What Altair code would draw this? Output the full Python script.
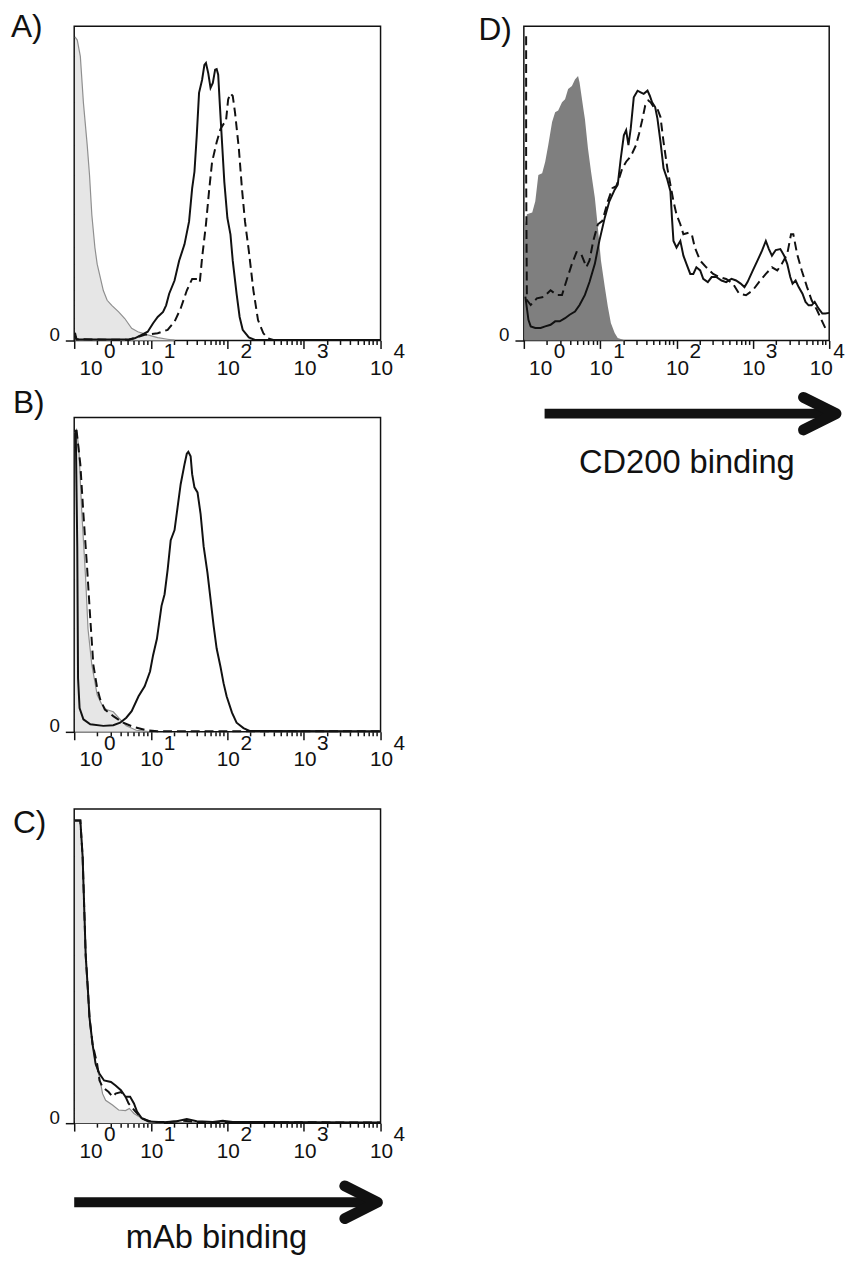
import altair as alt
import pandas as pd

FONT = "Liberation Sans"
INK = "#111111"

# ---- data: (decade = log10 of fluorescence intensity, % of maximum count) ----
A_iso = [(0.01, 96.6), (0.04, 95.6), (0.08, 90.4), (0.12, 75.7), (0.17, 62.1), (0.20, 52.6),
         (0.23, 40.0), (0.27, 29.6), (0.30, 24.3), (0.34, 20.1), (0.38, 15.9), (0.43, 12.8),
         (0.49, 11.2), (0.58, 9.1), (0.66, 7.0), (0.75, 3.9), (0.83, 2.8), (0.96, 1.8),
         (1.09, 0.9), (1.22, 0.4), (1.31, 0.1)]
A_solid = [(0.01, 1.5), (0.03, 0.3), (0.40, 0.3), (0.71, 0.3), (0.79, 0.7), (0.88, 1.8),
           (0.96, 2.8), (1.03, 5.5), (1.09, 7.5), (1.16, 9.1), (1.20, 11.2), (1.24, 14.9),
           (1.31, 19.1), (1.37, 25.4), (1.44, 30.6), (1.50, 37.9), (1.54, 48.4), (1.57, 53.7),
           (1.60, 65.2), (1.63, 78.8), (1.67, 83.0), (1.70, 87.7), (1.72, 88.3), (1.75, 85.1),
           (1.78, 80.4), (1.81, 82.0), (1.84, 86.2), (1.86, 86.4), (1.88, 84.6), (1.90, 75.7),
           (1.93, 63.1), (1.96, 50.5), (2.00, 39.0), (2.04, 33.8), (2.07, 25.4), (2.12, 14.9),
           (2.16, 7.5), (2.20, 3.4), (2.28, 1.0), (2.36, 0.2), (4.0, 0.2)]
A_dash = [(0.01, 2.5), (0.03, 0.4), (0.71, 0.2), (0.92, 1.8), (1.09, 2.3), (1.22, 3.4),
          (1.31, 6.0), (1.39, 10.2), (1.47, 15.9), (1.54, 19.6), (1.61, 19.6), (1.64, 18.6),
          (1.67, 26.4), (1.72, 36.9), (1.76, 47.4), (1.80, 56.8), (1.86, 63.1), (1.91, 67.3),
          (1.95, 68.9), (1.98, 69.4), (2.01, 76.7), (2.04, 78.6), (2.07, 77.8), (2.10, 72.5),
          (2.15, 61.0), (2.19, 48.4), (2.23, 37.9), (2.28, 28.5), (2.34, 15.9), (2.40, 6.5),
          (2.47, 2.3), (2.53, 0.7), (2.60, 0.2), (4.0, 0.2)]

B_iso = [(0.01, 95.0), (0.03, 96.1), (0.06, 90.4), (0.10, 69.4), (0.15, 48.5), (0.18, 32.8),
         (0.23, 21.3), (0.30, 11.8), (0.36, 8.7), (0.42, 7.1), (0.51, 6.4), (0.60, 4.0),
         (0.68, 1.9), (0.81, 0.5), (0.98, 0.1)]
B_solid = [(0.02, 96.1), (0.04, 59.0), (0.05, 17.1), (0.07, 7.6), (0.12, 4.0), (0.21, 2.4),
           (0.38, 1.9), (0.51, 2.1), (0.60, 2.9), (0.68, 4.5), (0.75, 6.6), (0.84, 11.3),
           (0.92, 14.5), (0.99, 19.2), (1.03, 24.4), (1.08, 29.6), (1.14, 40.1), (1.18, 43.8),
           (1.22, 51.6), (1.26, 61.0), (1.31, 64.2), (1.35, 71.5), (1.39, 78.8), (1.44, 85.1),
           (1.47, 88.5), (1.49, 89.1), (1.52, 87.7), (1.54, 82.0), (1.57, 77.8), (1.61, 76.2),
           (1.65, 69.4), (1.69, 59.0), (1.74, 50.6), (1.78, 42.2), (1.82, 33.8), (1.86, 26.5),
           (1.91, 20.7), (1.95, 15.5), (1.99, 11.3), (2.06, 6.1), (2.12, 2.9), (2.21, 1.2),
           (2.29, 0.3), (4.0, 0.2)]
B_dash = [(0.03, 96.1), (0.08, 85.1), (0.12, 69.4), (0.17, 51.6), (0.21, 35.9), (0.25, 21.3),
          (0.30, 13.9), (0.34, 10.3), (0.40, 7.1), (0.51, 5.0), (0.64, 2.9), (0.77, 1.6),
          (0.94, 0.5), (1.09, 0.2), (4.0, 0.2)]

C_iso = [(0.01, 96.3), (0.08, 96.3), (0.11, 84.8), (0.13, 69.1), (0.15, 53.4), (0.18, 41.9),
         (0.20, 33.5), (0.24, 25.1), (0.28, 18.8), (0.33, 14.7), (0.37, 9.4), (0.41, 7.3),
         (0.50, 5.8), (0.58, 4.2), (0.67, 4.0), (0.72, 4.7), (0.78, 3.1), (0.88, 1.6),
         (1.01, 0.5), (1.17, 0.2)]
C_solid = [(0.01, 96.3), (0.08, 96.3), (0.11, 84.8), (0.13, 69.1), (0.15, 53.4), (0.18, 41.9),
           (0.20, 33.5), (0.24, 25.1), (0.28, 18.8), (0.33, 15.7), (0.39, 13.6), (0.48, 13.1),
           (0.54, 12.0), (0.61, 10.5), (0.67, 8.4), (0.73, 8.4), (0.78, 6.3), (0.82, 3.7),
           (0.88, 1.6), (0.97, 0.5), (1.17, 0.3), (1.34, 0.6), (1.47, 1.3), (1.60, 0.6),
           (1.81, 0.4), (1.94, 0.8), (2.07, 0.4), (4.0, 0.2)]
C_dash = [(0.01, 96.3), (0.08, 96.3), (0.11, 84.8), (0.13, 69.1), (0.15, 53.4), (0.18, 41.9),
          (0.20, 33.5), (0.24, 25.1), (0.30, 18.8), (0.33, 13.6), (0.37, 11.5), (0.45, 9.9),
          (0.50, 8.4), (0.54, 9.4), (0.61, 9.9), (0.67, 8.4), (0.71, 6.3), (0.80, 3.7),
          (0.88, 1.6), (1.01, 0.4), (1.25, 0.4), (1.42, 0.8), (1.60, 0.4), (4.0, 0.2)]

D_iso = [(0.01, 36.0), (0.04, 40.2), (0.11, 40.7), (0.15, 44.3), (0.19, 52.7), (0.24, 53.2),
         (0.28, 56.9), (0.32, 62.2), (0.37, 69.5), (0.41, 72.6), (0.45, 73.2), (0.50, 75.8),
         (0.54, 76.8), (0.58, 80.0), (0.63, 81.0), (0.67, 83.1), (0.71, 84.2), (0.73, 82.1),
         (0.78, 73.7), (0.80, 70.5), (0.84, 61.1), (0.88, 53.8), (0.93, 45.4), (0.97, 35.9),
         (1.01, 25.5), (1.06, 17.1), (1.10, 10.8), (1.14, 5.6), (1.19, 2.4), (1.23, 0.8),
         (1.32, 0.1)]
D_solid = [(0.02, 14.0), (0.06, 6.6), (0.09, 4.5), (0.15, 4.0), (0.22, 4.0), (0.28, 4.5),
           (0.35, 5.0), (0.41, 6.1), (0.47, 6.1), (0.54, 7.1), (0.60, 8.2), (0.67, 9.2),
           (0.73, 11.3), (0.80, 14.5), (0.86, 18.6), (0.93, 24.4), (0.99, 31.8), (1.06, 39.1),
           (1.12, 44.3), (1.19, 48.0), (1.23, 49.6), (1.27, 58.0), (1.31, 65.3), (1.34, 66.9),
           (1.37, 62.2), (1.40, 67.4), (1.44, 77.4), (1.49, 79.5), (1.53, 79.0), (1.57, 78.5),
           (1.62, 79.5), (1.65, 77.9), (1.68, 75.8), (1.72, 74.3), (1.75, 70.6), (1.79, 63.2),
           (1.83, 54.8), (1.88, 51.2), (1.92, 47.5), (1.94, 39.1), (1.96, 31.7), (2.00, 29.6),
           (2.05, 31.7), (2.09, 27.0), (2.13, 24.4), (2.18, 21.2), (2.22, 21.2), (2.26, 23.3),
           (2.31, 22.3), (2.35, 19.6), (2.41, 18.6), (2.46, 20.2), (2.52, 20.2), (2.59, 19.1),
           (2.65, 18.6), (2.72, 19.6), (2.78, 19.1), (2.84, 18.1), (2.89, 17.0), (2.93, 18.6),
           (3.00, 22.3), (3.06, 25.4), (3.12, 28.6), (3.17, 31.7), (3.21, 29.1), (3.25, 27.0),
           (3.30, 28.8), (3.36, 29.1), (3.41, 27.0), (3.45, 24.4), (3.49, 20.2), (3.52, 18.1),
           (3.56, 19.1), (3.60, 17.0), (3.65, 14.9), (3.69, 12.3), (3.73, 11.2), (3.77, 11.2),
           (3.81, 12.3), (3.86, 10.2), (3.91, 8.6), (3.95, 8.6), (4.0, 8.8)]
D_dash = [(0.03, 96.8), (0.03, 53.8), (0.04, 12.9), (0.09, 11.3), (0.17, 13.4), (0.26, 13.9),
          (0.35, 16.0), (0.43, 14.5), (0.50, 14.5), (0.56, 19.2), (0.63, 24.4), (0.69, 28.1),
          (0.75, 27.6), (0.82, 23.4), (0.86, 25.5), (0.91, 31.8), (0.97, 37.0), (1.03, 38.1),
          (1.10, 44.3), (1.16, 48.5), (1.21, 49.1), (1.25, 51.7), (1.29, 54.8), (1.34, 56.9),
          (1.38, 58.0), (1.42, 59.6), (1.47, 62.2), (1.51, 65.9), (1.55, 70.1), (1.59, 74.8),
          (1.63, 76.4), (1.66, 75.8), (1.70, 74.3), (1.75, 73.7), (1.79, 71.1), (1.83, 63.2),
          (1.88, 54.8), (1.92, 49.6), (1.96, 44.3), (2.00, 40.1), (2.05, 37.0), (2.09, 33.8),
          (2.16, 34.3), (2.20, 33.8), (2.24, 29.6), (2.31, 25.4), (2.39, 23.3), (2.48, 21.2),
          (2.56, 20.2), (2.65, 19.6), (2.74, 18.1), (2.82, 14.9), (2.91, 14.4), (3.00, 16.0),
          (3.08, 18.6), (3.17, 21.2), (3.25, 23.3), (3.32, 22.3), (3.38, 24.4), (3.45, 27.5),
          (3.50, 33.8), (3.53, 33.8), (3.58, 27.5), (3.64, 22.3), (3.71, 17.0), (3.77, 12.8),
          (3.84, 9.7), (3.90, 6.5), (3.95, 3.9), (3.99, 3.4)]

TICK_VALUES = [1, 10, 100, 1000, 10000]
TICK_EXPONENTS = ["0", "1", "2", "3", "4"]
MINOR_TICKS = [m * d for d in (1, 10, 100, 1000) for m in range(2, 10)]

W_LEFT, W_D, H = 310, 309, 318


def curve(pairs):
    return pd.DataFrame({"v": [10 ** d for d, _ in pairs],
                         "h": [h for _, h in pairs],
                         "i": list(range(len(pairs)))})


XSCALE = alt.Scale(type="log", domain=[1, 10000], nice=False)
YSCALE = alt.Scale(domain=[0, 100], nice=False, zero=True)
MAJOR_TEST = " || ".join(f"datum.value == {v}" for v in TICK_VALUES)
XAXIS = alt.Axis(values=sorted(TICK_VALUES + MINOR_TICKS), labels=False, title=None,
                 domain=False, grid=False, tickColor=INK, tickWidth=1.5,
                 tickSize={"condition": {"test": MAJOR_TEST, "value": 8}, "value": 4})
YAXIS = alt.Axis(values=[0], title=None, domain=False, grid=False, tickColor=INK,
                 tickWidth=1.5, tickSize=9, labelFont=FONT, labelFontSize=19,
                 labelColor=INK, labelBaseline="alphabetic", labelPadding=6)


def xf(field):
    return alt.X(field, type="quantitative", scale=XSCALE, axis=XAXIS)


def xd(value):
    return alt.X(datum=value, type="quantitative", scale=XSCALE, axis=XAXIS)


YENC = alt.Y("h", type="quantitative", scale=YSCALE, axis=YAXIS)
ONE = pd.DataFrame({"a": [0]})


def panel(width, label, label_dx, label_dy, iso, solid, dash, iso_fill, iso_stroke,
          arrow=None, caption=None, last_dx=(1, 19)):
    layers = []
    iso_df = curve(iso)
    layers.append(alt.Chart(iso_df).mark_area(color=iso_fill, opacity=1)
                  .encode(x=xf("v"), y=YENC))
    if iso_stroke:
        layers.append(alt.Chart(iso_df).mark_line(color=iso_stroke, strokeWidth=1.2)
                      .encode(x=xf("v"), y=YENC, order=alt.Order("i:Q")))
    layers.append(alt.Chart(curve(dash)).mark_line(color=INK, strokeWidth=2, strokeDash=[9, 5])
                  .encode(x=xf("v"), y=YENC, order=alt.Order("i:Q")))
    layers.append(alt.Chart(curve(solid)).mark_line(color=INK, strokeWidth=2)
                  .encode(x=xf("v"), y=YENC, order=alt.Order("i:Q")))

    lab = alt.Chart(pd.DataFrame({"v": TICK_VALUES, "e": TICK_EXPONENTS}))
    tk = dict(font=FONT, fontSize=21, color=INK, baseline="alphabetic", align="center")
    groups = [("datum.v == 1", 17, 36),
              ("datum.v > 1 && datum.v < 10000", 1, 19),
              ("datum.v == 10000", last_dx[0], last_dx[1])]
    for test, dx_base, dx_exp in groups:
        layers.append(lab.transform_filter(test).mark_text(dx=dx_base, **tk)
                      .encode(x=xf("v"), y=alt.value(H + 35), text=alt.value("10")))
        layers.append(lab.transform_filter(test).mark_text(dx=dx_exp, **tk)
                      .encode(x=xf("v"), y=alt.value(H + 18), text="e:N"))

    layers.append(alt.Chart(pd.DataFrame({"t": [label]}))
                  .mark_text(align="left", baseline="alphabetic", font=FONT, fontSize=32, color=INK)
                  .encode(x=alt.value(label_dx), y=alt.value(label_dy), text="t:N"))

    if arrow:
        x0, x1, yo = arrow
        layers.append(alt.Chart(ONE).mark_rule(color=INK, strokeWidth=10)
                      .encode(x=xd(x0), x2=alt.X2(datum=x1), y=alt.value(H + yo)))
        layers.append(alt.Chart(ONE).mark_point(shape="M-1,-0.5L0,0L-1,0.5", size=4356,
                                                filled=False, color=INK, strokeWidth=11,
                                                strokeCap="round", strokeJoin="round", opacity=1)
                      .encode(x=xd(x1), y=alt.value(H + yo)))
    if caption:
        text, cx, cy = caption
        layers.append(alt.Chart(pd.DataFrame({"t": [text]}))
                      .mark_text(align="center", baseline="alphabetic", font=FONT, fontSize=33, color=INK)
                      .encode(x=alt.value(cx), y=alt.value(H + cy), text="t:N"))
    return alt.layer(*layers).properties(width=width, height=H)


LIGHT, LIGHT_EDGE, DARK = "#e6e6e6", "#8f8f8f", "#7f7f7f"

pA = panel(W_LEFT, "A)", -64, 11, A_iso, A_solid, A_dash, LIGHT, LIGHT_EDGE)
pB = panel(W_LEFT, "B)", -62, -5, B_iso, B_solid, B_dash, LIGHT, LIGHT_EDGE)
pC = panel(W_LEFT, "C)", -62, 24, C_iso, C_solid, C_dash, LIGHT, LIGHT_EDGE,
           arrow=(1, 9100, 80), caption=("mAb binding", 144, 126))
pD = panel(W_D, "D)", -46, 14, D_iso, D_solid, D_dash, DARK, None,
           arrow=(1.87, 12300, 74), caption=("CD200 binding", 165, 134), last_dx=(-8, 10))

blank = (alt.Chart(ONE).mark_point(opacity=0)
         .properties(width=W_D, height=H, view=alt.ViewBackground(stroke="transparent")))

chart = (alt.concat(pA, pD, pB, blank, pC, columns=2, bounds="flush",
                    spacing={"row": 78, "column": 145})
         .properties(padding={"left": 2, "top": -5, "right": 0, "bottom": 0})
         .configure_view(stroke=INK, strokeWidth=1.5))

chart.save("out.html", embed_options={"renderer": "svg", "actions": False})
